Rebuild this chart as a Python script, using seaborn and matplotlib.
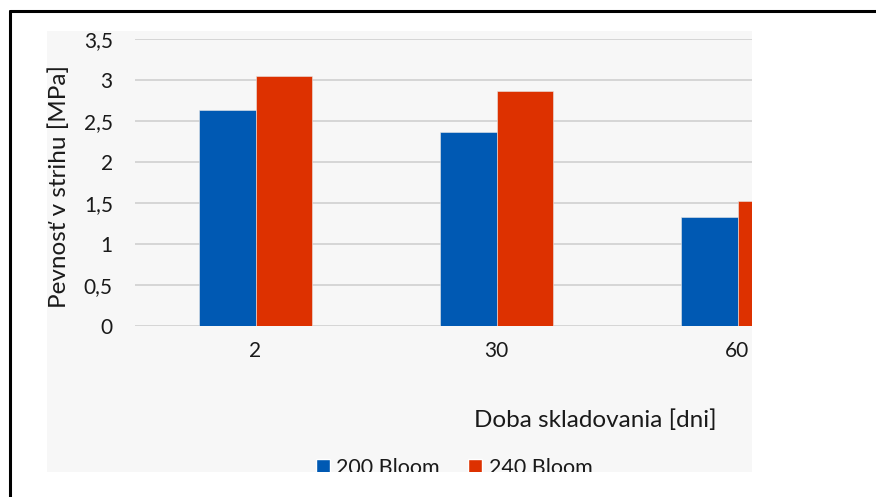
import matplotlib
matplotlib.use("Agg")
import matplotlib.pyplot as plt
import pandas as pd
import seaborn as sns
from matplotlib.lines import Line2D
from matplotlib.patches import Rectangle

# data
days = ["2", "30", "60"]
bloom_200 = [2.63, 2.37, 1.33]
bloom_240 = [3.05, 2.87, 1.52]
series = ["200 Bloom", "240 Bloom"]
y_ticks = [0, 0.5, 1, 1.5, 2, 2.5, 3, 3.5]
y_tick_labels = ["0", "0,5", "1", "1,5", "2", "2,5", "3", "3,5"]

PALETTE = {"200 Bloom": "#0059b3", "240 Bloom": "#dd3100"}

frame = pd.DataFrame({
    "day": days * 2,
    "value": bloom_200 + bloom_240,
    "series": [series[0]] * len(days) + [series[1]] * len(days),
})

sns.set_style("white")
plt.rcParams["font.family"] = ["Lato", "DejaVu Sans"]

W, H = 876, 497
fig = plt.figure(figsize=(W / 100, H / 100), dpi=100)


def px(x0, y0, x1, y1):
    """pixel box (top-left origin) -> figure fraction [l, b, w, h]"""
    return [x0 / W, 1 - y1 / H, (x1 - x0) / W, (y1 - y0) / H]


# grey chart area
fig.patches.append(Rectangle((47 / W, 1 - 472 / H), (752 - 47) / W, (472 - 31) / H,
                             transform=fig.transFigure, facecolor="#f7f7f7",
                             edgecolor="none", zorder=-5))

ax = fig.add_axes(px(135, 39, 752, 326))
ax.patch.set_alpha(0)
sns.barplot(data=frame, x="day", y="value", hue="series", palette=PALETTE,
            width=0.47, edgecolor="#e8e8e8", linewidth=0.4, saturation=1,
            ax=ax, zorder=3)
ax.get_legend().remove()

ax.set_ylim(0, 3.5)
ax.set_xlim(-0.5, -0.5 + (752 - 135) / 241)
ax.set_yticks(y_ticks)
ax.set_yticklabels(y_tick_labels)
ax.yaxis.grid(True, color="#d0d0d0", linewidth=1.2, zorder=1)
ax.set_axisbelow(True)
for s in ax.spines.values():
    s.set_visible(False)
ax.tick_params(axis="y", length=0, pad=16, labelsize=15, labelcolor="#1a1a1a")
ax.tick_params(axis="x", length=0, pad=11, labelsize=15, labelcolor="#1a1a1a")

ax.set_xlabel("Doba skladovania [dni]", fontsize=17.5, color="#1a1a1a", ha="right", va="center")
ax.xaxis.set_label_coords((717 - 135) / 617, (326 - 420) / 287)
ax.set_ylabel("Pevnosť v strihu [MPa]", fontsize=17.5, color="#1a1a1a", va="center")
ax.yaxis.set_label_coords((59 - 135) / 617, (326 - 186) / 287)

handles = [Rectangle((0, 0), 1, 1, facecolor=PALETTE[s]) for s in series]
fig.legend(handles, series, ncol=2, loc="upper left",
           bbox_to_anchor=(316 / W, 1 - 458 / H), frameon=False, fontsize=15.5,
           handlelength=0.65, handleheight=0.65, handletextpad=0.3,
           columnspacing=1.3, borderpad=0, borderaxespad=0, labelcolor="#1a1a1a")

# white strip below the chart area clips the legend, as in the reference
fig.patches.append(Rectangle((12 / W, 0), 1, (H - 472) / H, transform=fig.transFigure,
                             facecolor="white", edgecolor="none", zorder=20))

# black frame lines (top and left)
fig.add_artist(Line2D([10 / W, 1], [1 - 11 / H, 1 - 11 / H], color="black",
                      linewidth=2.2, transform=fig.transFigure, zorder=30))
fig.add_artist(Line2D([10 / W, 10 / W], [1 - 11 / H, 0], color="black",
                      linewidth=2.2, transform=fig.transFigure, zorder=30))

fig.savefig("out.png", dpi=100)
